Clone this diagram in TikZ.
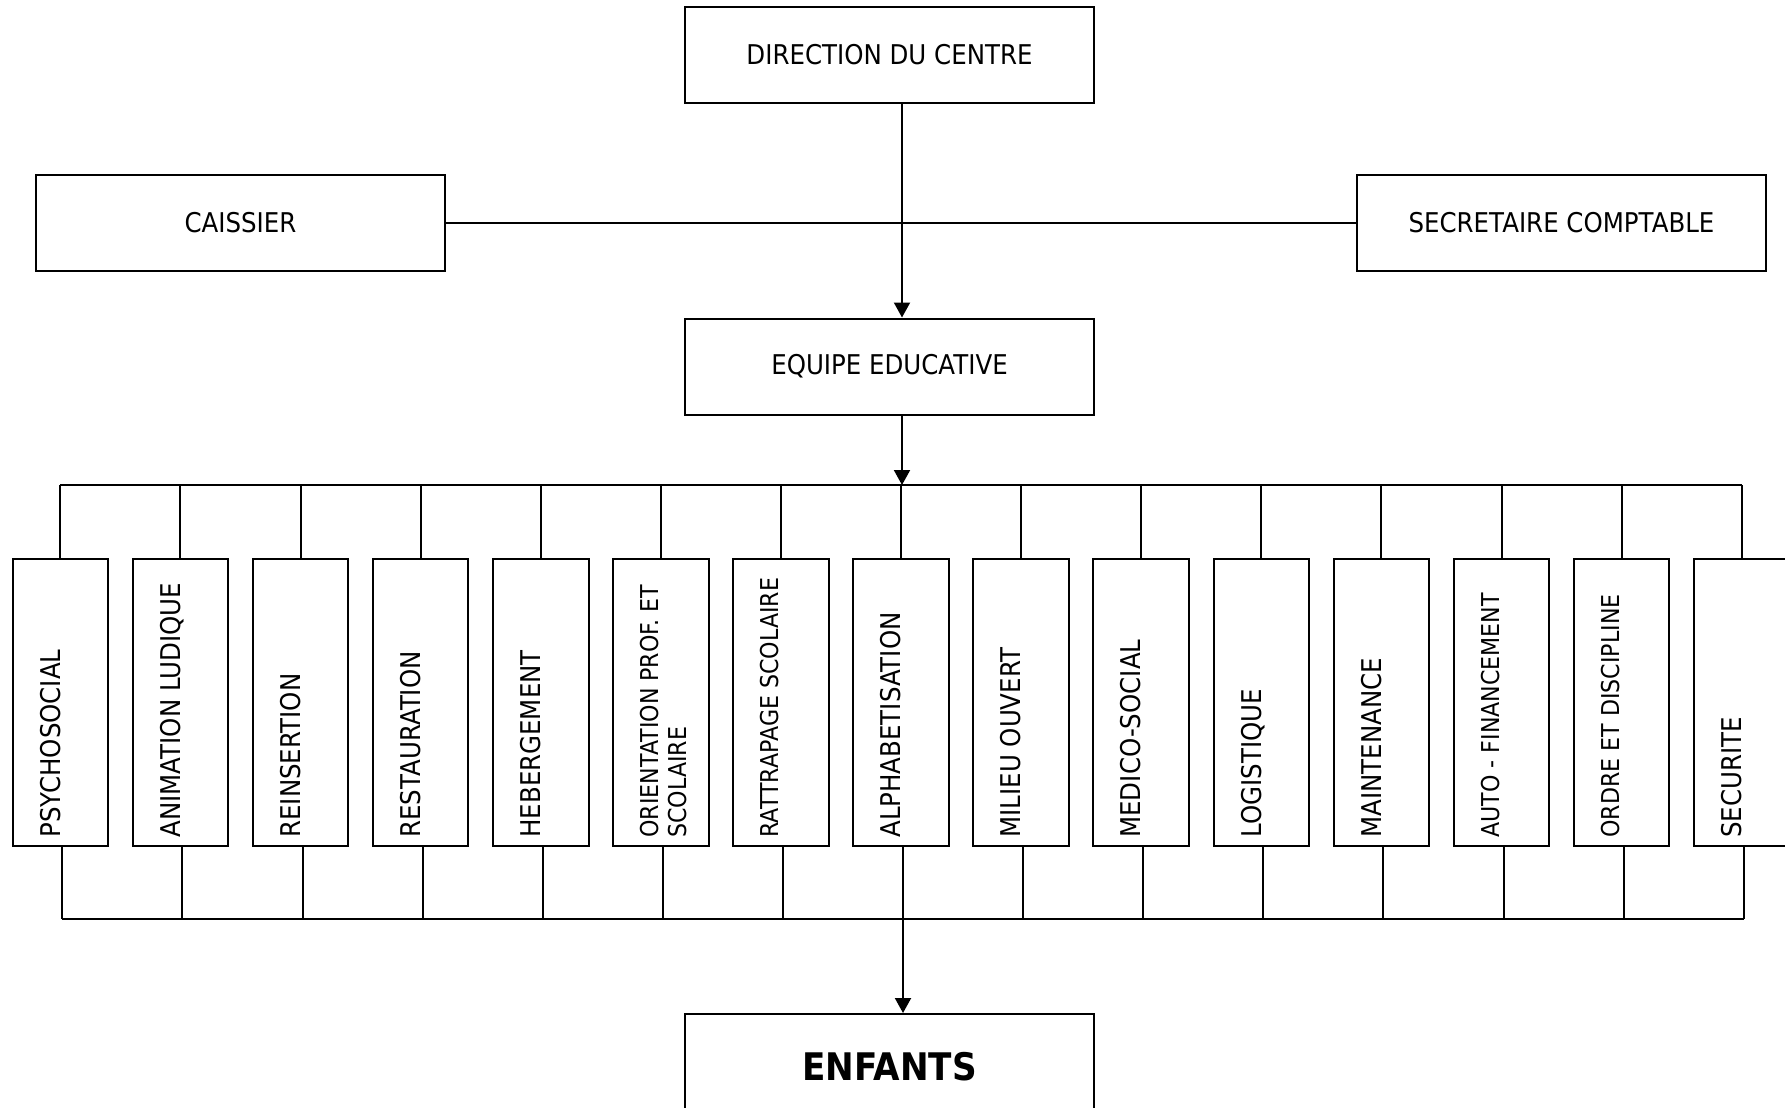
\documentclass[tikz,border=0pt]{standalone}
\usepackage{fontspec}
\setmainfont{DejaVu Sans}[FakeStretch=0.9]
\usetikzlibrary{arrows.meta,calc}
\tikzset{
  box/.style={draw, line width=1pt, minimum width=204.5pt, minimum height=48pt, inner sep=0pt, font=\fontsize{13.6}{16}\selectfont},
  svc/.style={draw, line width=1pt, minimum width=47.8pt, minimum height=143.5pt, inner sep=0pt},
  svclab/.style={rotate=90, anchor=north west, inner sep=0pt, align=left, font=\fontsize{13.6}{15}\selectfont},
  svcsmall/.style={svclab, font=\fontsize{12.3}{13.7}\selectfont},
  conn/.style={line width=1pt},
}
\begin{document}
\begin{tikzpicture}[x=0.5pt,y=-0.5pt,>={Triangle[length=7.5pt,width=8pt]}]
\useasboundingbox (0,0) rectangle (1785,1108);
\coordinate (axis) at (902,0);
\coordinate (tbus) at (0,485);
\coordinate (bbus) at (0,919);

% direction
\node[box] (dir) at (889.5,55) {DIRECTION DU CENTRE};
\node[box] (caissier) at (240.5,222.5) {CAISSIER};
\node[box] (secr) at (1561.5,222.5) {SECRETAIRE COMPTABLE};
\node[box] (equipe) at (889.5,366.5) {EQUIPE EDUCATIVE};
\node[box, minimum height=53pt, font=\fontsize{19}{21}\selectfont\bfseries] (enf) at (889.5,1067) {ENFANTS};

\draw[conn] (caissier.east) -- (secr.west);
\draw[conn,->] (dir.south -| axis) -- (equipe.north -| axis);
\draw[conn,->] (equipe.south -| axis) -- (axis |- tbus);

% services
\node[svc] (s1) at (60.3,702.5) {};
\node[svc] (s2) at (180.4,702.5) {};
\node[svc] (s3) at (300.5,702.5) {};
\node[svc] (s4) at (420.6,702.5) {};
\node[svc] (s5) at (540.7,702.5) {};
\node[svc] (s6) at (660.8,702.5) {};
\node[svc] (s7) at (780.9,702.5) {};
\node[svc] (s8) at (901,702.5) {};
\node[svc] (s9) at (1021.1,702.5) {};
\node[svc] (s10) at (1141.2,702.5) {};
\node[svc] (s11) at (1261.3,702.5) {};
\node[svc] (s12) at (1381.4,702.5) {};
\node[svc] (s13) at (1501.5,702.5) {};
\node[svc] (s14) at (1621.6,702.5) {};
\node[svc] (s15) at (1741.7,702.5) {};

\node[svclab] (t1) at ($(s1.south west)+(28,-9)$) {PSYCHOSOCIAL};
\node[svclab] (t2) at ($(s2.south west)+(28,-9)$) {ANIMATION LUDIQUE};
\node[svclab] (t3) at ($(s3.south west)+(28,-9)$) {REINSERTION};
\node[svclab] (t4) at ($(s4.south west)+(28,-9)$) {RESTAURATION};
\node[svclab] (t5) at ($(s5.south west)+(28,-9)$) {HEBERGEMENT};
\node[svcsmall] (t6) at ($(s6.south west)+(28,-9)$) {ORIENTATION PROF. ET\\SCOLAIRE};
\node[svcsmall] (t7) at ($(s7.south west)+(28,-9)$) {RATTRAPAGE SCOLAIRE};
\node[svclab] (t8) at ($(s8.south west)+(28,-9)$) {ALPHABETISATION};
\node[svclab] (t9) at ($(s9.south west)+(28,-9)$) {MILIEU OUVERT};
\node[svclab] (t10) at ($(s10.south west)+(28,-9)$) {MEDICO-SOCIAL};
\node[svclab] (t11) at ($(s11.south west)+(28,-9)$) {LOGISTIQUE};
\node[svclab] (t12) at ($(s12.south west)+(28,-9)$) {MAINTENANCE};
\node[svcsmall] (t13) at ($(s13.south west)+(28,-9)$) {AUTO - FINANCEMENT};
\node[svcsmall] (t14) at ($(s14.south west)+(28,-9)$) {ORDRE ET DISCIPLINE};
\node[svclab] (t15) at ($(s15.south west)+(28,-9)$) {SECURITE};

\foreach \i in {1,...,15}{
  \draw[conn] (s\i.north) -- (s\i.north |- tbus);
  \draw[conn] ($(s\i.south)+(2,0)$) -- ($(s\i.south |- bbus)+(2,0)$);
}
\draw[conn] (s1.north |- tbus) -- (s15.north |- tbus);
\draw[conn] ($(s1.south |- bbus)+(2,0)$) -- ($(s15.south |- bbus)+(2,0)$);
\draw[conn,->] ($(s8.south |- bbus)+(2,0)$) -- ($(s8.south |- enf.north)+(2,0)$);
\end{tikzpicture}
\end{document}
